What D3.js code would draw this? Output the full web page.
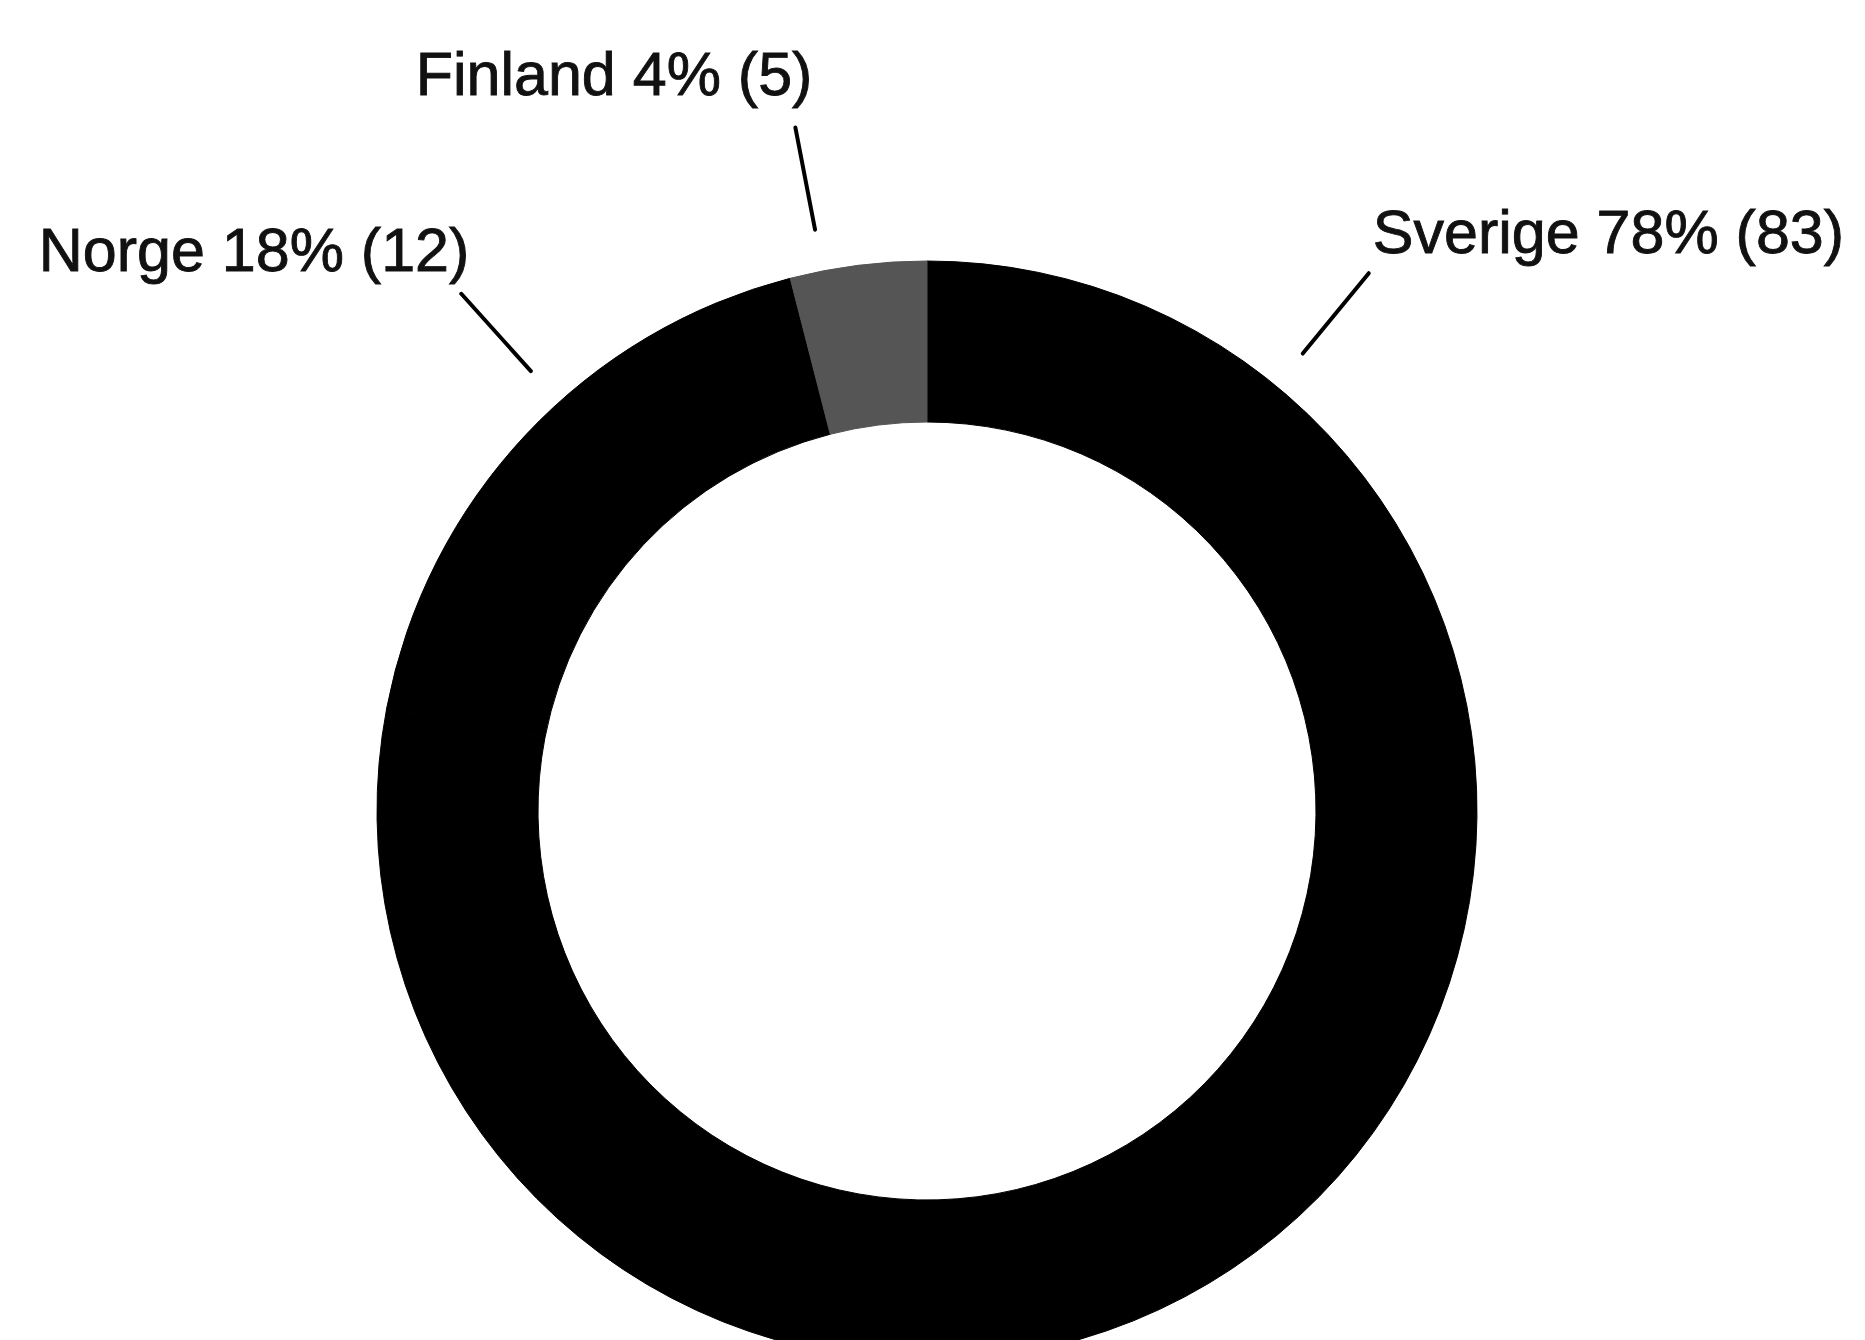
<!DOCTYPE html>
<html>
<head>
<meta charset="utf-8">
<script src="https://cdn.jsdelivr.net/npm/d3@7"></script>
<style>
  html, body { margin: 0; padding: 0; background: #ffffff; }
  svg { display: block; }
</style>
</head>
<body>
<script>
// ---- Data ----
const categories = ["Sverige", "Norge", "Finland"];
const percents   = [78, 18, 4];
const counts     = [83, 12, 5];

// ---- Layout / style (not data) ----
const W = 1865, H = 1340;
const cx = 927, cy = 811;
const outerR = 550, innerR = 389;
const colors = { "Sverige": "#000000", "Norge": "#000000", "Finland": "#555555" };
// leader line angle (degrees, clockwise from top) and label offsets relative to outer end of leader
const labelLayout = {
  "Sverige": { angle: 39.4,  anchor: "start", dx: 4,  dy: -20 },
  "Finland": { angle: -10.9, anchor: "end",   dx: 17, dy: -33 },
  "Norge":   { angle: -42.0, anchor: "end",   dx: 8,  dy: -23 }
};
const leaderR0 = outerR + 42, leaderR1 = outerR + 146;

const data = categories.map((c, i) => ({ name: c, pct: percents[i], n: counts[i] }));

const svg = d3.select("body").append("svg")
  .attr("width", W).attr("height", H)
  .attr("viewBox", `0 0 ${W} ${H}`);

const g = svg.append("g").attr("transform", `translate(${cx},${cy})`);

const pie = d3.pie().value(d => d.pct).sort(null).startAngle(0).endAngle(2 * Math.PI);
const arc = d3.arc().innerRadius(innerR).outerRadius(outerR);

g.selectAll("path.slice")
  .data(pie(data))
  .join("path")
  .attr("class", "slice")
  .attr("d", arc)
  .attr("fill", d => colors[d.data.name])
  .attr("stroke", d => colors[d.data.name])
  .attr("stroke-width", 1);

// leader lines + labels
const labels = g.selectAll("g.label")
  .data(data)
  .join("g")
  .attr("class", "label");

labels.each(function(d) {
  const L = labelLayout[d.name];
  const a = L.angle * Math.PI / 180;
  const p0 = d3.pointRadial(a, leaderR0);
  const p1 = d3.pointRadial(a, leaderR1);
  const sel = d3.select(this);
  sel.append("line")
    .attr("x1", p0[0]).attr("y1", p0[1])
    .attr("x2", p1[0]).attr("y2", p1[1])
    .attr("stroke", "#000").attr("stroke-width", 4)
    .attr("stroke-linecap", "round");
  sel.append("text")
    .attr("x", p1[0] + L.dx)
    .attr("y", p1[1] + L.dy)
    .attr("text-anchor", L.anchor)
    .attr("font-family", "'Liberation Sans', Arial, sans-serif")
    .attr("font-size", 61)
    .attr("fill", "#111")
    .attr("stroke", "#111")
    .attr("stroke-width", 0.9)
    .text(`${d.name} ${d.pct}% (${d.n})`);
});
</script>
</body>
</html>
